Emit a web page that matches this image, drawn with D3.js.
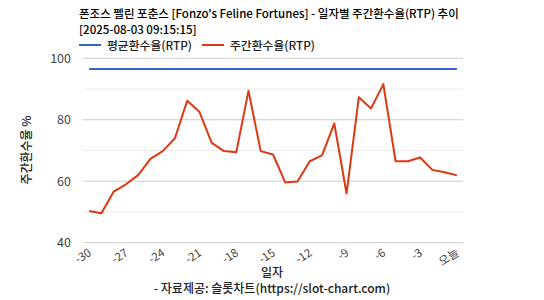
<!DOCTYPE html>
<html><head><meta charset="utf-8">
<script src="https://cdn.jsdelivr.net/npm/d3@7"></script>
<style>body{margin:0;background:#fff}svg{font-family:"Noto Sans CJK KR","Noto Sans",sans-serif}</style>
</head><body><svg id="c" width="544" height="300"></svg>
<script>
const categories = ["-30","-29","-28","-27","-26","-25","-24","-23","-22","-21","-20","-19","-18","-17","-16","-15","-14","-13","-12","-11","-10","-9","-8","-7","-6","-5","-4","-3","-2","-1","오늘"];
const weeklyRTP = [50.3,49.6,56.6,59.0,62.0,67.3,69.8,74.0,86.2,82.6,72.5,69.8,69.4,89.4,69.8,68.7,59.6,59.9,66.5,68.4,78.8,56.0,87.3,83.7,91.6,66.5,66.5,67.7,63.7,62.9,61.9];
const avgRTP = categories.map(() => 96.5);
const yTicks = [40,60,80,100];
const yMinor = [50,70,90];
const xTickLabels = ["-30","-27","-24","-21","-18","-15","-12","-9","-6","-3","오늘"];
const titleLines = ["폰조스 펠린 포춘스 [Fonzo's Feline Fortunes] - 일자별 주간환수율(RTP) 추이","[2025-08-03 09:15:15]"];
const seriesNames = ["평균환수율(RTP)","주간환수율(RTP)"];
const colors = ["#3366cc","#dc3912"];

const svg = d3.select("#c");
const L=83,R=463,T=58.3,B=242.7;
const x = d3.scaleBand().domain(categories).range([L,R]);
const y = d3.scaleLinear().domain([40,100]).range([B,T]);
const cx = d => x(d)+x.bandwidth()/2;

svg.append("g").selectAll("line").data(yMinor).join("line")
 .attr("x1",L).attr("x2",R).attr("y1",d=>y(d)).attr("y2",d=>y(d)).attr("stroke","#ebebeb");
svg.append("g").selectAll("line").data(yTicks).join("line")
 .attr("x1",L).attr("x2",R).attr("y1",d=>y(d)).attr("y2",d=>y(d)).attr("stroke","#cccccc");
svg.append("g").selectAll("text").data(yTicks).join("text")
 .attr("x",L-12).attr("y",d=>y(d)+4.5).attr("text-anchor","end").attr("font-size",12.5).attr("fill","#444").text(d=>d);

svg.append("g").selectAll("text").data(xTickLabels).join("text")
 .attr("transform",d=>`translate(${cx(d)+3},${B+12}) rotate(-33)`)
 .attr("text-anchor","end").attr("font-size",11.5).attr("fill","#444").text(d=>d);

const line = d3.line().x((d,i)=>cx(categories[i])).y(d=>y(d));
svg.append("path").attr("d",line(avgRTP)).attr("fill","none").attr("stroke",colors[0]).attr("stroke-width",2);
svg.append("path").attr("d",line(weeklyRTP)).attr("fill","none").attr("stroke",colors[1]).attr("stroke-width",2).attr("stroke-linejoin","round");

svg.selectAll(".t").data(titleLines).join("text").attr("x",79).attr("y",(d,i)=>18+i*16)
 .attr("font-size",11.5).attr("font-weight",500).attr("fill","#000").text(d=>d);

const lg = svg.append("g");
[0,1].forEach(i=>{
  const ox = i===0?79:202;
  lg.append("line").attr("x1",ox).attr("x2",ox+22).attr("y1",45).attr("y2",45).attr("stroke",colors[i]).attr("stroke-width",2);
  lg.append("text").attr("x",ox+28).attr("y",49.5).attr("font-size",11.8).attr("font-weight",500).attr("fill","#222").text(seriesNames[i]);
});

svg.append("text").attr("transform","translate(31,150) rotate(-90)").attr("text-anchor","middle")
 .attr("font-size",12).attr("font-weight",500).attr("fill","#222").text("주간환수율 %");
svg.append("text").attr("x",272).attr("y",277).attr("text-anchor","middle").attr("font-size",12).attr("font-weight",500).attr("fill","#222").text("일자");
svg.append("text").attr("x",272).attr("y",292.5).attr("text-anchor","middle").attr("font-size",12).attr("font-weight",500).attr("fill","#222").text("- 자료제공: 슬롯차트(https://slot-chart.com)");
</script></body></html>
